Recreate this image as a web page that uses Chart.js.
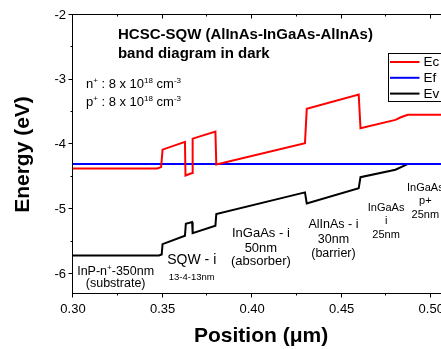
<!DOCTYPE html>
<html>
<head>
<meta charset="utf-8">
<script src="https://cdn.jsdelivr.net/npm/chart.js@4.4.0/dist/chart.umd.min.js"></script>
<style>
    html, body { margin: 0; padding: 0; background: #fff; overflow: hidden; }
    #wrap { width: 452px; height: 349px; }
</style>
</head>
<body>
<div id="wrap"><canvas id="bandChart" width="452" height="349"></canvas></div>
<script>
// ========================
// DATA
// ========================
const ecPos = [0.300, 0.347, 0.3492, 0.3500, 0.3625, 0.3628, 0.3665, 0.3668, 0.3795, 0.3800, 0.4295, 0.4305, 0.4595, 0.4605, 0.4800, 0.4830, 0.4870, 0.5100];
const ecVal = [-4.37, -4.37, -4.35, -4.08, -3.96, -4.48, -4.44, -3.91, -3.80, -4.31, -3.98, -3.45, -3.23, -3.75, -3.62, -3.58, -3.54, -3.54];

const efPos = [0.300, 0.510];
const efVal = [-4.30, -4.30];

const evPos = [0.300, 0.348, 0.3495, 0.3500, 0.3625, 0.3630, 0.3665, 0.3668, 0.3795, 0.3800, 0.4295, 0.4305, 0.4595, 0.4605, 0.4800, 0.4870, 0.5100];
const evVal = [-5.715, -5.715, -5.70, -5.54, -5.41, -5.225, -5.20, -5.37, -5.256, -5.076, -4.74, -4.91, -4.675, -4.505, -4.39, -4.30, -4.30];

const seriesNames = ['Ec', 'Ef', 'Ev'];
const seriesColors = ['#ff0000', '#0000ff', '#000000'];

const xTickLabels = ['0.30', '0.35', '0.40', '0.45', '0.50'];
const yTickLabels = ['-2', '-3', '-4', '-5', '-6'];

const FONT = "'Liberation Sans', Arial, sans-serif";

// texts on the plot, placed in data units
const notes = [
    { x: 0.3251, y: -2.371, size: 15, bold: true, align: 'left', parts: [['HCSC-SQW (AlInAs-InGaAs-AlInAs)']] },
    { x: 0.3251, y: -2.657, size: 15, bold: true, align: 'left', parts: [['band diagram in dark']] },
    { x: 0.3072, y: -3.128, size: 13, align: 'left', parts: [['n'], ['+', 1], [' : 8 x 10'], ['18', 1], [' cm'], ['-3', 1]] },
    { x: 0.3072, y: -3.406, size: 13, align: 'left', parts: [['p'], ['+', 1], [' : 8 x 10'], ['18', 1], [' cm'], ['-3', 1]] },

    { x: 0.3238, y: -6.017, size: 12.5, parts: [['InP-n'], ['+', 1], ['-350nm']] },
    { x: 0.3238, y: -6.202, size: 12.5, parts: [['(substrate)']] },

    { x: 0.3663, y: -5.847, size: 14, parts: [['SQW - i']] },
    { x: 0.3663, y: -6.094, size: 9.5, parts: [['13-4-13nm']] },

    { x: 0.4049, y: -5.430, size: 13, parts: [['InGaAs - i']] },
    { x: 0.4049, y: -5.657, size: 13, parts: [['50nm']] },
    { x: 0.4049, y: -5.869, size: 13, parts: [['(absorber)']] },

    { x: 0.4454, y: -5.291, size: 12.5, parts: [['AlInAs - i']] },
    { x: 0.4454, y: -5.522, size: 12.5, parts: [['30nm']] },
    { x: 0.4454, y: -5.746, size: 12.5, parts: [['(barrier)']] },

    { x: 0.4748, y: -5.028, size: 11, parts: [['InGaAs']] },
    { x: 0.4748, y: -5.229, size: 11, parts: [['i']] },
    { x: 0.4748, y: -5.445, size: 11, parts: [['25nm']] },

    { x: 0.4967, y: -4.719, size: 11, parts: [['InGaAs']] },
    { x: 0.4967, y: -4.920, size: 11, parts: [['p+']] },
    { x: 0.4967, y: -5.136, size: 11, parts: [['25nm']] }
];

function toPoints(xs, ys) {
    return xs.map((x, i) => ({ x: x, y: ys[i] }));
}

// ========================
// TEXT WITH SUPERSCRIPTS
// ========================
function drawRich(ctx, note, px, py) {
    const base = (note.bold ? 'bold ' : '') + note.size + 'px ' + FONT;
    const sup = Math.round(note.size * 0.62) + 'px ' + FONT;

    let total = 0;
    note.parts.forEach(p => {
        ctx.font = p[1] ? sup : base;
        total += ctx.measureText(p[0]).width;
    });

    let cx = note.align === 'left' ? px : px - total / 2;

    note.parts.forEach(p => {
        ctx.font = p[1] ? sup : base;
        ctx.fillText(p[0], cx, p[1] ? py - note.size * 0.42 : py);
        cx += ctx.measureText(p[0]).width;
    });
}

// ========================
// PLUGINS
// ========================
const frameTicks = {
    id: 'frameTicks',
    afterDraw(chart) {
        const { ctx, chartArea: a, scales } = chart;
        const L = Math.round(a.left) - 0.5;
        const T = Math.round(a.top) - 0.5;
        const B = Math.round(a.bottom) - 0.5;
        const R = Math.round(a.right) - 0.5;

        ctx.save();
        ctx.strokeStyle = '#000';
        ctx.lineWidth = 1;
        ctx.strokeRect(L, T, R - L, B - T);

        ctx.beginPath();
        scales.x.ticks.forEach(t => {
            const px = Math.round(scales.x.getPixelForValue(t.value)) - 0.5;
            const len = t.label ? 4 : 2;
            ctx.moveTo(px, B);
            ctx.lineTo(px, B + len);
            ctx.moveTo(px, T);
            ctx.lineTo(px, T + len);
        });
        scales.y.ticks.forEach(t => {
            const py = Math.round(scales.y.getPixelForValue(t.value)) - 0.5;
            const len = t.label ? 4 : 2;
            ctx.moveTo(L, py);
            ctx.lineTo(L - len, py);
        });
        ctx.stroke();
        ctx.restore();
    }
};

const noteText = {
    id: 'noteText',
    afterDraw(chart) {
        const { ctx, scales } = chart;
        ctx.save();
        ctx.fillStyle = '#000';
        ctx.textAlign = 'left';
        ctx.textBaseline = 'alphabetic';
        notes.forEach(n => {
            drawRich(ctx, n, scales.x.getPixelForValue(n.x), scales.y.getPixelForValue(n.y));
        });
        ctx.restore();
    }
};

const legendBox = {
    id: 'legendBox',
    afterDraw(chart) {
        const { ctx, chartArea: a } = chart;
        const left = Math.round(a.left) + 316 - 0.5;
        const top = Math.round(a.top) + 39 - 0.5;

        ctx.save();
        ctx.fillStyle = '#fff';
        ctx.fillRect(left, top, 58, 48);
        ctx.strokeStyle = '#000';
        ctx.lineWidth = 1;
        ctx.strokeRect(left, top, 58, 48);

        ctx.font = '13.5px ' + FONT;
        ctx.textBaseline = 'middle';
        ctx.textAlign = 'left';

        chart.data.datasets.forEach((ds, i) => {
            const yy = top + 8.5 + i * 15.8;
            ctx.strokeStyle = ds.borderColor;
            ctx.lineWidth = 2;
            ctx.beginPath();
            ctx.moveTo(left + 1.5, yy);
            ctx.lineTo(left + 31, yy);
            ctx.stroke();
            ctx.fillStyle = '#000';
            ctx.fillText(ds.label, left + 35, yy + 0.5);
        });
        ctx.restore();
    }
};

// ========================
// CHART
// ========================
Chart.defaults.font.family = FONT;
Chart.defaults.color = '#000';

const datasets = [
    toPoints(ecPos, ecVal),
    toPoints(efPos, efVal),
    toPoints(evPos, evVal)
].map((pts, i) => ({
    label: seriesNames[i],
    data: pts,
    borderColor: seriesColors[i],
    backgroundColor: seriesColors[i],
    borderWidth: 2,
    pointRadius: 0,
    tension: 0,
    fill: false
}));

new Chart(document.getElementById('bandChart').getContext('2d'), {
    type: 'line',
    data: { datasets: datasets },
    options: {
        responsive: false,
        animation: false,
        devicePixelRatio: 1,
        layout: { padding: { left: 0, right: 2, top: 15, bottom: 0 } },
        plugins: {
            legend: { display: false },
            tooltip: { enabled: false }
        },
        scales: {
            x: {
                type: 'linear',
                min: 0.30,
                max: 0.51,
                grid: { display: false, drawTicks: false },
                border: { display: false },
                ticks: {
                    stepSize: 0.025,
                    includeBounds: false,
                    autoSkip: false,
                    maxRotation: 0,
                    padding: 8,
                    color: '#000',
                    font: { size: 13 },
                    callback: v => {
                        const s = Number(v).toFixed(2);
                        return xTickLabels.includes(s) && Math.round(v * 1000) % 50 === 0 ? s : '';
                    }
                },
                title: {
                    display: true,
                    text: 'Position (\u03bcm)',
                    color: '#000',
                    font: { size: 21, weight: 'bold' },
                    padding: { top: 0, bottom: 0 }
                },
                afterFit: s => { s.height = 55; }
            },
            y: {
                type: 'linear',
                min: -6.31,
                max: -2,
                grid: { display: false, drawTicks: false },
                border: { display: false },
                ticks: {
                    stepSize: 0.5,
                    includeBounds: false,
                    autoSkip: false,
                    padding: 7,
                    color: '#000',
                    font: { size: 13 },
                    callback: v => {
                        const s = String(v);
                        return yTickLabels.includes(s) ? s : '';
                    }
                },
                title: {
                    display: true,
                    text: 'Energy (eV)',
                    color: '#000',
                    font: { size: 21, weight: 'bold' },
                    padding: { top: 11, bottom: 0 }
                },
                afterFit: s => { s.width = 73; }
            }
        }
    },
    plugins: [frameTicks, noteText, legendBox]
});
</script>
</body>
</html>
